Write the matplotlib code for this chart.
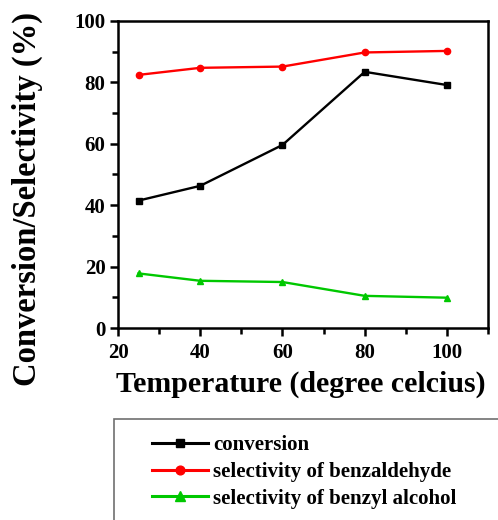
import matplotlib
matplotlib.use("Agg")
from matplotlib import pyplot as plt
from matplotlib.patches import Rectangle
from matplotlib.ticker import MultipleLocator

plt.rcParams['font.family'] = ['Liberation Serif', 'DejaVu Serif']
plt.rcParams['font.weight'] = 'bold'

temps = [25, 40, 60, 80, 100]
conversion = [41.5, 46.3, 59.6, 83.4, 79.1]
sel_benzaldehyde = [82.4, 84.7, 85.1, 89.7, 90.2]
sel_benzyl_alcohol = [17.8, 15.4, 15.0, 10.5, 9.9]

fig = plt.figure(figsize=(4.98, 5.20), dpi=100)
ax = fig.add_axes([0.237, 0.369, 0.743, 0.591])

ax.plot(temps, conversion, color='black', lw=1.7, marker='s', ms=4.5, label='conversion')
ax.plot(temps, sel_benzaldehyde, color='#ff0000', lw=1.7, marker='o', ms=4.5,
        label='selectivity of benzaldehyde')
ax.plot(temps, sel_benzyl_alcohol, color='#00c800', lw=1.7, marker='^', ms=5,
        label='selectivity of benzyl alcohol')

ax.set_xlim(20, 110)
ax.set_ylim(0, 100)
ax.set_xticks([20, 40, 60, 80, 100])
ax.set_yticks([0, 20, 40, 60, 80, 100])
ax.xaxis.set_minor_locator(MultipleLocator(10))
ax.yaxis.set_minor_locator(MultipleLocator(10))
ax.tick_params(which='major', length=6, width=1.8, labelsize=15, pad=3)
ax.tick_params(axis='x', which='major', pad=5)
ax.tick_params(which='minor', length=4, width=1.8)
ax.tick_params(top=False, right=False, which='both')
for s in ax.spines.values():
    s.set_linewidth(1.8)

ax.set_xlabel('Temperature (degree celcius)', fontsize=21.5, fontweight='bold')
ax.xaxis.set_label_coords(0.495, -0.14)
ax.xaxis.label.set_va('top')
ax.set_ylabel('Conversion/Selectivity (%)', fontsize=23.5, fontweight='bold')
ax.yaxis.set_label_coords(-0.203, 0.42)

# legend box sits below the plot and runs off the page
fig.patches.append(Rectangle((114 / 498, -0.1), 0.9, 1.1 - 419 / 520, transform=fig.transFigure,
                             fill=False, edgecolor='#707070', lw=1.2, clip_on=False))
fig.legend(loc='upper left', bbox_to_anchor=(152 / 498, 1 - 435 / 520),
           frameon=False, handlelength=2.7, handletextpad=0.25,
           labelspacing=0.33, borderpad=0, borderaxespad=0, markerscale=1.4,
           prop={'weight': 'bold', 'size': 15})
for h in fig.legends[0].get_lines():
    h.set_linewidth(2.2)

fig.savefig('out.png', dpi=100)
